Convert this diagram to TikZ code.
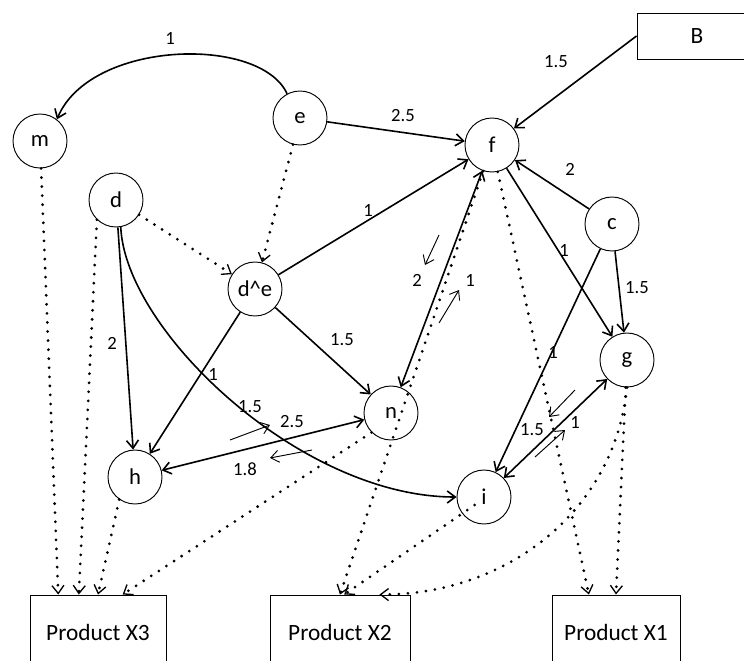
\documentclass[tikz,border=0pt]{standalone}
\usepackage{fontspec}
\setmainfont{Carlito}
\usetikzlibrary{arrows.meta, calc}

\begin{document}
\begin{tikzpicture}[
  x=0.75pt, y=-0.75pt,
  >={Straight Barb[length=6pt, width=9pt]},
  state/.style={circle, draw, line width=0.7pt, minimum size=40.5pt, inner sep=0pt, font=\fontsize{17}{19}\selectfont},
  prod/.style={rectangle, draw, line width=0.7pt, minimum height=55.5pt, font=\fontsize{17.5}{20}\selectfont},
  flow/.style={->, line width=1.2pt},
  supply/.style={-{Straight Barb[length=6pt, width=9pt, line width'=1pt]}, line width=2.3pt, line cap=round, dash pattern=on 0pt off 6.8pt},
  wt/.style={inner sep=1pt, font=\fontsize{14}{16}\selectfont},
  hint/.style={->, line width=0.7pt},
]
  \useasboundingbox (0,0) rectangle (744,661);

  % states
  \node[state] (m)  at (40,141)  {m};
  \node[state] (e)  at (300,118) {e};
  \node[state] (d)  at (116,200) {d};
  \node[state] (f)  at (492,145) {f};
  \node[state] (c)  at (612,224) {c};
  \node[state] (de) at (255,289) {d\textasciicircum e};
  \node[state] (g)  at (627,360) {g};
  \node[state] (n)  at (391,413) {n};
  \node[state] (h)  at (135,477) {h};
  \node[state] (i)  at (484,497) {i};

  % source and products
  \node[prod, minimum width=90pt, minimum height=34.5pt] (B) at (697,36) {B};
  \node[prod, minimum width=102pt] (X3) at (98,632)  {Product X3};
  \node[prod, minimum width=105pt] (X2) at (340,632) {Product X2};
  \node[prod, minimum width=96pt]  (X1) at (616,632) {Product X1};

  % flows
  \draw[flow] (e.118) .. controls (260,35) and (90,40) .. (m.52);
  \draw[flow] (e) -- (f);
  \draw[flow] (B.west) -- (f);
  \draw[flow] (de) -- (f);
  \draw[flow] (c) -- (f);
  \draw[flow] (f) -- (g);
  \draw[flow] (c) -- (g);
  \draw[flow] (c) -- (i);
  \draw[flow, <->] (f) -- (n);
  \draw[flow] (de) -- (n);
  \draw[flow] (de) -- (h);
  \draw[flow] (d) -- (h);
  \draw[flow] (d.-80) .. controls (125,330) and (300,497) .. (i.west);
  \draw[flow, <->] (h) -- (n);
  \draw[flow, <->] (i) -- (g);

  % supply lines
  \draw[supply] (e) -- (de);
  \draw[supply] (d) -- (de);
  \draw[supply] (m) -- ($(X3.north west)!.21!(X3.north east)$);
  \draw[supply] (d.226) -- ($(X3.north west)!.36!(X3.north east)$);
  \draw[supply] (h.235) -- ($(X3.north west)!.5!(X3.north east)$);
  \draw[supply] (n.225) -- ($(X3.north west)!.68!(X3.north east)$);
  \draw[supply] (f) -- ($(X2.north west)!.5!(X2.north east)$);
  \draw[supply] ([shift={(-7pt,-6pt)}]i.center) -- ($(X2.north west)!.53!(X2.north east)$);
  \draw[supply] (g.south) .. controls (614,513) and (505,595) .. ($(X2.north west)!.78!(X2.north east)$);
  \draw[supply] (f) -- ($(X1.north west)!.29!(X1.north east)$);
  \draw[supply] (g) -- (X1.north);

  % weights
  \node[wt] (w-em)  at (170,38)  {1};
  \node[wt] (w-ef)  at (403,116) {2.5};
  \node[wt] (w-Bf)  at (556,62)  {1.5};
  \node[wt] (w-def) at (368,210) {1};
  \node[wt] (w-cf)  at (570,169) {2};
  \node[wt] (w-fg)  at (564,250) {1};
  \node[wt] (w-cg)  at (637,288) {1.5};
  \node[wt] (w-ci)  at (553,352) {1};
  \node[wt] (w-fn)  at (417,280) {2};
  \node[wt] (w-nf)  at (470,280) {1};
  \node[wt] (w-den) at (342,340) {1.5};
  \node[wt] (w-deh) at (213,374) {1};
  \node[wt] (w-dh)  at (112,343) {2};
  \node[wt] (w-di)  at (250,407) {1.5};
  \node[wt] (w-hn)  at (292,422) {2.5};
  \node[wt] (w-nh)  at (245,469) {1.8};
  \node[wt] (w-gi)  at (532,430) {1.5};
  \node[wt] (w-ig)  at (575,422) {1};

  % direction hints
  \draw[hint] (439,235) -- (425,265);
  \draw[hint] (439,323) -- (459,290);
  \draw[hint] (230,440) -- (270,425);
  \draw[hint] (312,450) -- (270,458);
  \draw[hint] (575,390) -- (549,417);
  \draw[hint] (535,457) -- (565,430);
\end{tikzpicture}
\end{document}
